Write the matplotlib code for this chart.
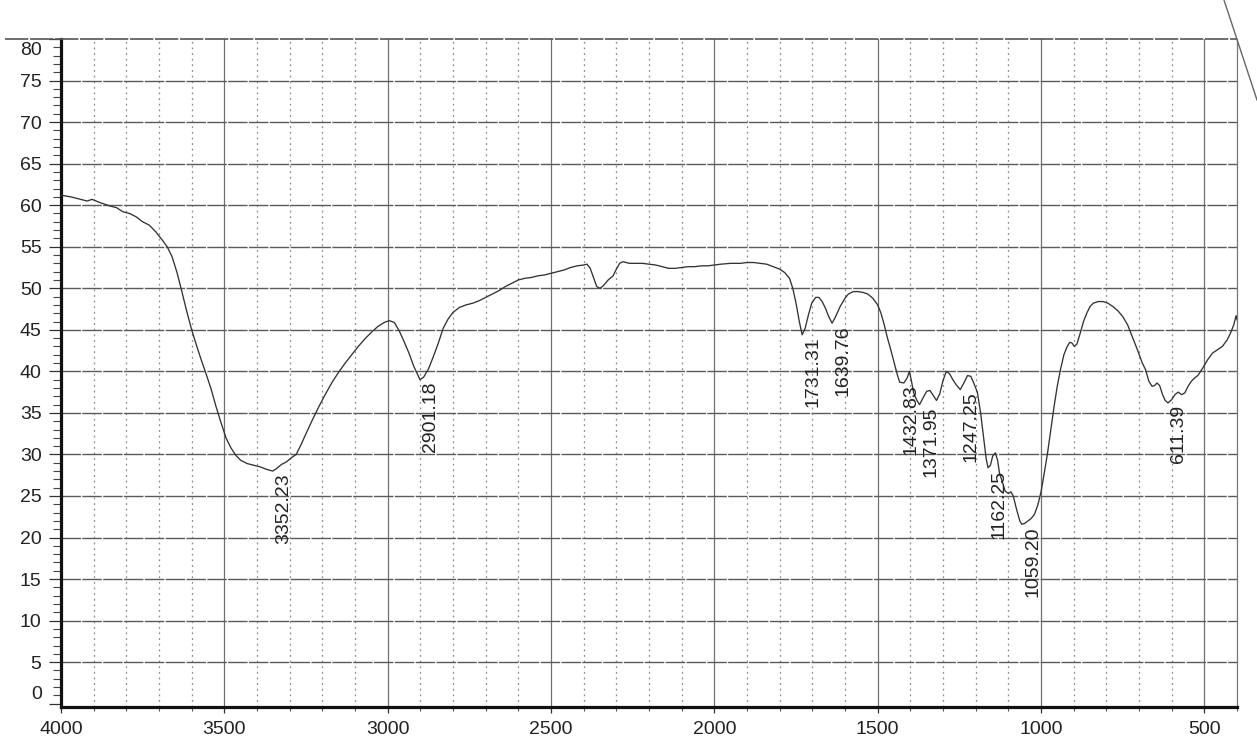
import numpy as np
import matplotlib.pyplot as plt
from matplotlib.lines import Line2D
from matplotlib.ticker import MultipleLocator

plt.rcParams['font.family'] = ['Liberation Sans', 'DejaVu Sans']

# FTIR spectrum: wavenumber (cm-1) and %T
wavenumber = [
    4000, 3970, 3940, 3920, 3905, 3880, 3850, 3830, 3810, 3790, 3770, 3750,
    3730, 3710, 3690, 3675, 3660, 3645, 3630, 3615, 3600, 3585, 3570, 3555,
    3540, 3525, 3510, 3495, 3480, 3465, 3450, 3430, 3410, 3390, 3370, 3352.23,
    3340, 3325, 3310, 3295, 3280, 3265, 3250, 3230, 3210, 3190, 3170, 3150,
    3130, 3110, 3090, 3070, 3050, 3030, 3010, 2995, 2980, 2965, 2950, 2935,
    2920, 2901.18, 2890, 2875, 2860, 2845, 2830, 2815, 2800, 2780, 2760, 2740,
    2720, 2700, 2680, 2660, 2640, 2620, 2600, 2580, 2560, 2540, 2520, 2500,
    2480, 2460, 2440, 2420, 2400, 2390, 2380, 2370, 2360, 2350, 2340, 2325,
    2310, 2300, 2290, 2280, 2260, 2240, 2220, 2200, 2180, 2160, 2140, 2120,
    2100, 2080, 2060, 2040, 2020, 2000, 1980, 1950, 1920, 1900, 1880, 1860,
    1840, 1820, 1800, 1785, 1770, 1760, 1750, 1740, 1731.31, 1722, 1712, 1702,
    1690, 1680, 1670, 1660, 1650, 1639.76, 1630, 1615, 1600, 1590, 1575, 1560,
    1545, 1530, 1515, 1500, 1490, 1480, 1470, 1460, 1450, 1440, 1432.83, 1420,
    1410, 1403, 1397, 1390, 1380, 1371.95, 1360, 1350, 1340, 1330, 1320, 1310,
    1300, 1290, 1280, 1270, 1260, 1247.25, 1235, 1225, 1215, 1205, 1195, 1185,
    1175, 1168, 1162.25, 1155, 1148, 1140, 1133, 1127, 1120, 1110, 1100, 1092,
    1085, 1075, 1065, 1059.20, 1050, 1040, 1030, 1020, 1010, 1000, 990, 980,
    970, 960, 950, 940, 930, 920, 912, 905, 898, 890, 880, 870,
    860, 850, 840, 825, 810, 795, 780, 765, 750, 735, 720, 705,
    690, 680, 670, 660, 652, 645, 637, 628, 620, 611.39, 600, 590,
    580, 570, 560, 550, 540, 530, 520, 505, 490, 475, 460, 445,
    430, 420, 410, 403, 400,
]
transmittance = [
    61.2, 61.0, 60.7, 60.5, 60.7, 60.3, 59.9, 59.7, 59.2, 59.0, 58.6, 58.0,
    57.6, 56.8, 55.8, 55.0, 53.8, 51.9, 49.6, 47.2, 45.0, 43.1, 41.3, 39.6,
    37.8, 35.7, 33.8, 32.0, 30.8, 29.9, 29.3, 28.9, 28.7, 28.5, 28.2, 28.0,
    28.3, 28.8, 29.1, 29.6, 30.0, 31.2, 32.5, 34.2, 35.8, 37.3, 38.7, 39.9,
    41.0, 42.0, 43.0, 43.9, 44.7, 45.4, 45.9, 46.1, 45.9, 44.9, 43.6, 42.2,
    40.6, 39.0, 39.3, 40.3, 41.8, 43.4, 45.2, 46.3, 47.1, 47.7, 48.0, 48.2,
    48.5, 48.9, 49.3, 49.7, 50.2, 50.6, 51.0, 51.2, 51.3, 51.5, 51.6, 51.8,
    52.0, 52.2, 52.5, 52.7, 52.8, 52.9, 52.4, 51.3, 50.2, 50.0, 50.3, 51.0,
    51.5, 52.3, 53.0, 53.2, 53.0, 53.0, 53.0, 52.9, 52.8, 52.6, 52.4, 52.4,
    52.5, 52.6, 52.6, 52.7, 52.7, 52.8, 52.9, 53.0, 53.0, 53.1, 53.1, 53.0,
    52.9, 52.6, 52.3, 51.9, 51.2, 50.0, 48.2, 46.0, 44.4, 45.2, 46.8, 48.2,
    48.9, 48.9, 48.4, 47.6, 46.6, 45.8, 46.5, 47.8, 48.8, 49.3, 49.6, 49.6,
    49.5, 49.3, 48.8, 48.0, 47.0, 45.6, 44.0, 42.6, 41.1, 39.6, 38.7, 38.6,
    39.2, 40.0, 38.9, 37.4, 36.5, 36.0, 36.9, 37.6, 37.7, 37.1, 36.5, 37.3,
    38.9, 40.0, 39.7, 39.0, 38.4, 37.8, 38.7, 39.5, 39.4, 38.5, 37.5, 35.0,
    31.8, 29.5, 28.4, 28.7, 29.8, 30.2, 29.3, 27.7, 26.9, 25.6, 25.3, 25.5,
    25.0, 23.4, 22.0, 21.6, 21.7, 22.0, 22.3, 22.8, 23.9, 25.5, 27.8, 30.2,
    33.0, 35.8, 38.3, 40.3, 42.0, 43.0, 43.5, 43.4, 43.0, 43.3, 44.6, 46.0,
    47.0, 47.8, 48.2, 48.4, 48.4, 48.2, 47.8, 47.3, 46.6, 45.6, 44.1, 42.6,
    41.0, 40.2, 38.8, 38.2, 38.3, 38.6, 38.3, 37.2, 36.5, 36.2, 36.6, 37.2,
    37.5, 37.2, 37.4, 38.2, 38.8, 39.2, 39.5, 40.4, 41.4, 42.2, 42.6, 43.0,
    43.8, 44.6, 45.6, 46.7, 46.2,
]

# Labelled absorption bands
peak_positions = [3352.23, 2901.18, 1731.31, 1639.76, 1432.83, 1371.95,
                  1247.25, 1162.25, 1059.20, 611.39]
peak_labels = ["3352.23", "2901.18", "1731.31", "1639.76", "1432.83",
               "1371.95", "1247.25", "1162.25", "1059.20", "611.39"]

x_ticks = [4000, 3500, 3000, 2500, 2000, 1500, 1000, 500]
y_ticks = list(range(0, 85, 5))

FS = 14

fig = plt.figure(figsize=(12.57, 7.36), dpi=100)
ax = fig.add_axes([0.04853, 0.03981, 0.9356, 0.9072])

ax.set_xlim(4000, 400)
ax.set_ylim(-0.36, 80)

# chart paper grid
for xv in range(500, 4000, 100):
    if xv % 500 == 0:
        ax.axvline(xv, color='#707070', lw=0.9, zorder=1)
    else:
        ax.axvline(xv, color='#8c8c8c', lw=0.9, ls=(0, (1.5, 3)), zorder=1)
for yv in range(5, 80, 5):
    ax.axhline(yv, color='#5a5a5a', lw=1.0, ls=(0, (14, 1)), zorder=1)

ax.plot(wavenumber, transmittance, color='#333333', lw=0.95, zorder=3)

spec = dict(zip(wavenumber, transmittance))
for pos, lab in zip(peak_positions, peak_labels):
    ax.annotate(lab, xy=(pos, spec[pos]), xytext=(11, -2),
                textcoords='offset pixels', rotation=90,
                ha='center', va='top', fontsize=FS, color='#222222')

# axes frame
ax.spines['left'].set_linewidth(2.3)
ax.spines['bottom'].set_linewidth(2.3)
ax.spines['left'].set_color('#111111')
ax.spines['bottom'].set_color('#111111')
ax.spines['top'].set_visible(False)
ax.spines['right'].set_color('#777777')
ax.spines['right'].set_linewidth(0.9)

ax.set_xticks(x_ticks)
ax.xaxis.set_minor_locator(MultipleLocator(100))
ax.set_yticks(y_ticks)
ax.yaxis.set_minor_locator(MultipleLocator(1))
ax.set_yticklabels([str(v) if v not in (0, 80) else '' for v in y_ticks])

ax.tick_params(axis='y', which='major', length=9, width=0.9, pad=5,
               labelsize=FS, colors='#333333', labelcolor='#222222')
ax.tick_params(axis='y', which='minor', length=5.5, width=0.8,
               colors='#444444')
ax.tick_params(axis='x', which='major', length=4.3, width=0.9, pad=6,
               labelsize=FS, colors='#333333', labelcolor='#222222')
ax.tick_params(axis='x', which='minor', length=3, width=0.8,
               colors='#555555')

# end labels sit inside the frame
for yv, dy in ((0, 9.5), (80, -11)):
    ax.annotate(str(yv), xy=(0, yv), xycoords=('axes fraction', 'data'),
                xytext=(-19, dy), textcoords='offset pixels',
                ha='right', va='center', fontsize=FS, color='#222222')

# top border of the chart paper and torn paper edge
fig.add_artist(Line2D([5 / 1257, 1237 / 1257], [1 - 39 / 736, 1 - 39 / 736],
                      color='#555555', lw=1.2, ls=(0, (14, 1))))
fig.add_artist(Line2D([1224 / 1257, 1257 / 1257], [1.0, 1 - 100 / 736],
                      color='#666666', lw=1.0))

fig.savefig("out.png", dpi=100)
